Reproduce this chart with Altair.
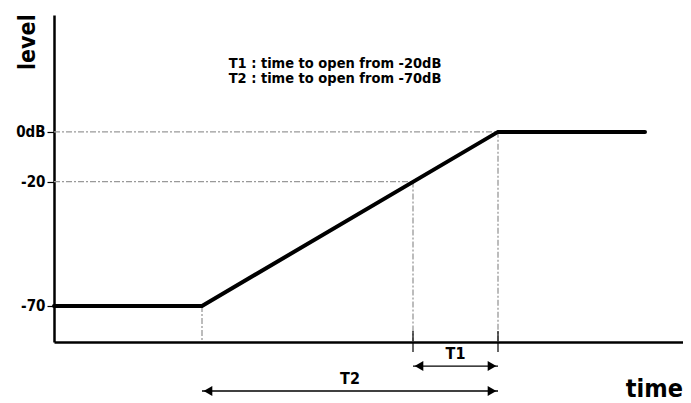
import altair as alt
import pandas as pd

# ---- data ----
line_time = [0, 148, 444, 591]
line_level = [-70, -70, 0, 0]

tick_levels = [0, -20, -70]

h_guide_level = [0, -20]
h_guide_end = [444, 359]

v_guide_time = [148, 359, 444]
v_guide_top = [-70, -20, 0]
axis_bottom = -84.5

cross_time = [359, 444]

arrow_names = ["T1", "T2"]
arrow_start = [359, 148]
arrow_end = [444, 444]
arrow_level = [-94.2, -104.2]
arrow_label_level = [-89.3, -99.5]

note_lines = ["T1 : time to open from -20dB", "T2 : time to open from -70dB"]
note_level = [27.3, 21.3]
note_time = 281

FONT = "DejaVu Sans Condensed"
XDOM = [0, 629]
YDOM = [axis_bottom, 47]

xs = alt.Scale(domain=XDOM, nice=False, zero=False)
ys = alt.Scale(domain=YDOM, nice=False, zero=False)

line_df = pd.DataFrame({"time": line_time, "level": line_level})
hg_df = pd.DataFrame({"level": h_guide_level, "x0": [0, 0], "x1": h_guide_end})
vg_df = pd.DataFrame({"time": v_guide_time, "top": v_guide_top, "bot": [axis_bottom] * 3})
cross_df = pd.DataFrame({"time": cross_time, "y0": [-80.1] * 2, "y1": [-88.5] * 2})
arr_df = pd.DataFrame({"name": arrow_names, "s": arrow_start, "e": arrow_end,
                       "lv": arrow_level, "lab": arrow_label_level})
arr_df["mid"] = (arr_df["s"] + arr_df["e"]) / 2
note_df = pd.DataFrame({"text": note_lines, "level": note_level, "time": [note_time] * 2})

yaxis = alt.Axis(values=tick_levels,
                 labelExpr="datum.value == 0 ? '0dB' : '' + datum.value",
                 domainColor="black", domainWidth=2.5, tickColor="black",
                 tickSize=7, tickWidth=1.2, labelFont=FONT, labelFontWeight="bold",
                 labelFontSize=15, labelColor="black", labelPadding=2,
                 grid=False, title=None)
xaxis = alt.Axis(domainColor="black", domainWidth=2.5, ticks=False, labels=False,
                 grid=False, title=None)

base = alt.Chart(line_df)

main = base.mark_line(color="black", strokeWidth=4, strokeCap="round").encode(
    x=alt.X("time:Q", scale=xs, axis=xaxis),
    y=alt.Y("level:Q", scale=ys, axis=yaxis),
)

guide_style = dict(color="#999999", strokeWidth=1.3, strokeDash=[6, 2, 2, 2])

hguides = alt.Chart(hg_df).mark_rule(**guide_style).encode(
    x=alt.X("x0:Q", scale=xs), x2="x1:Q", y=alt.Y("level:Q", scale=ys))
vguides = alt.Chart(vg_df).mark_rule(**guide_style).encode(
    x=alt.X("time:Q", scale=xs), y=alt.Y("top:Q", scale=ys), y2="bot:Q")
cross = alt.Chart(cross_df).mark_rule(color="black", strokeWidth=1.2).encode(
    x=alt.X("time:Q", scale=xs), y=alt.Y("y0:Q", scale=ys), y2="y1:Q")

arr_line = alt.Chart(arr_df).mark_rule(color="black", strokeWidth=1.3).encode(
    x=alt.X("s:Q", scale=xs), x2="e:Q", y=alt.Y("lv:Q", scale=ys))
head_l = alt.Chart(arr_df).mark_point(shape="triangle-left", filled=True, color="black",
                                      size=100, opacity=1, xOffset=6).encode(
    x=alt.X("s:Q", scale=xs), y=alt.Y("lv:Q", scale=ys))
head_r = alt.Chart(arr_df).mark_point(shape="triangle-right", filled=True, color="black",
                                      size=100, opacity=1, xOffset=-6).encode(
    x=alt.X("e:Q", scale=xs), y=alt.Y("lv:Q", scale=ys))
arr_text = alt.Chart(arr_df).mark_text(font=FONT, fontWeight="bold", fontSize=16,
                                       color="black", baseline="middle").encode(
    x=alt.X("mid:Q", scale=xs), y=alt.Y("lab:Q", scale=ys), text="name:N")

notes = alt.Chart(note_df).mark_text(font=FONT, fontWeight="bold", fontSize=14.5,
                                     color="black", baseline="middle").encode(
    x=alt.X("time:Q", scale=xs), y=alt.Y("level:Q", scale=ys), text="text:N")

titles_df = pd.DataFrame({"text": ["level"], "time": [-19], "level": [47.3]})
level_title = alt.Chart(titles_df).mark_text(font=FONT, fontWeight="bold", fontSize=23,
                                             color="black", angle=270, align="right",
                                             baseline="alphabetic").encode(
    x=alt.X("time:Q", scale=xs), y=alt.Y("level:Q", scale=ys), text="text:N")

time_df = pd.DataFrame({"text": ["time"], "time": [629], "level": [-106.6]})
time_title = alt.Chart(time_df).mark_text(font=FONT, fontWeight="bold", fontSize=25,
                                          color="black", align="right",
                                          baseline="alphabetic").encode(
    x=alt.X("time:Q", scale=xs), y=alt.Y("level:Q", scale=ys), text="text:N")

chart = alt.layer(hguides, vguides, cross, main, arr_line, head_l, head_r, arr_text,
                  notes, level_title, time_title).properties(
    width=629, height=327,
    padding={"left": 46, "top": 7, "right": 0, "bottom": 61},
    autosize=alt.AutoSizeParams(type="none"),
).configure_view(stroke=None)

chart.save("out.html", embed_options={"renderer": "svg", "actions": False})
